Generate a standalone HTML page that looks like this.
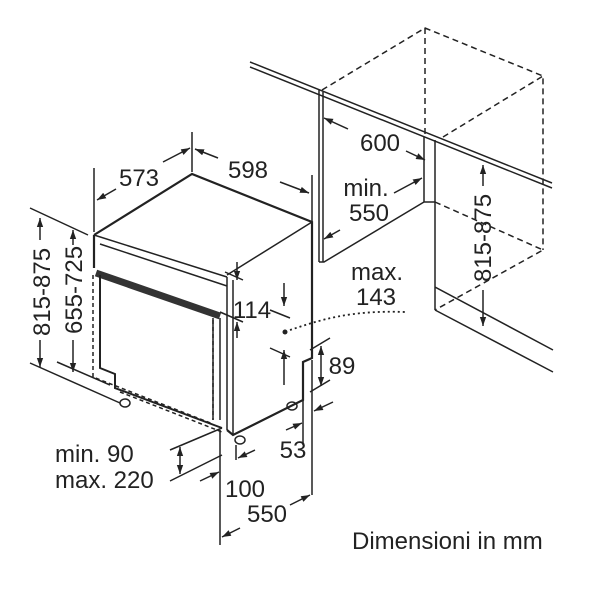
<!DOCTYPE html>
<html><head><style>
body{margin:0;background:#fff}
svg{display:block}
text{font-family:"Liberation Sans",sans-serif;font-size:24px;fill:#222}
</style></head><body>
<svg width="600" height="600" viewBox="0 0 600 600" xmlns="http://www.w3.org/2000/svg">
<defs>
<marker id="a" viewBox="0 0 10 10" refX="10" refY="5" markerWidth="6" markerHeight="6" orient="auto-start-reverse"><path d="M0,1.5L10,5L0,8.5z" fill="#222"/></marker>
</defs>
<g stroke="#222" fill="none" stroke-width="1.5">
<path d="M250,62L552,183M250,67L552,188" />
<g stroke-dasharray="6,4">
<path d="M322,90L425,28L543,76L543,250M425,28L425,137M443,137L543,76M435,202L543,250L435,310"/>
</g>
<path d="M319,90V262M323,92V262M319,262H324L424,202M424,137V202H435M435,140V287L553,350M435,310L553,372M435,287V310"/>
<path stroke-width="2.2" d="M94,235L192,174L312,222L312,358L303,362L303,400L233,435L227,430"/>
<path d="M227,275L312,222M94,235L227,277M100,244L227,286M227,277V430M233,280V435"/>
<path stroke-width="2.2" d="M94,235V268"/>
<path stroke="#333" stroke-width="7" d="M96,273L220,316"/>
<path stroke-width="2" d="M100,275V368L115,374V388L222,428"/>
<path d="M220,318V420M213,318V420"/>
<g stroke-dasharray="4,3"><path d="M93,275V377L213,424M120,392L222,432M213,320V420"/></g>
<ellipse cx="125" cy="403" rx="5" ry="4"/><ellipse cx="240" cy="440" rx="5" ry="4"/><ellipse cx="292" cy="406" rx="5" ry="4"/>
<path d="M94,168V232M192,132V172M312,175V221"/>
<path d="M97,200L116,189" marker-start="url(#a)"/>
<path d="M163,162L190,148" marker-end="url(#a)"/>
<path d="M195,149L218,158" marker-start="url(#a)"/>
<path d="M280,182L309,193" marker-end="url(#a)"/>
<path d="M324,118L348,129" marker-start="url(#a)"/>
<path d="M406,151L425,160" marker-end="url(#a)"/>
<path d="M394,193L422,178" marker-end="url(#a)"/>
<path d="M324,239L340,230" marker-start="url(#a)"/>
<path d="M483,165V186" marker-start="url(#a)"/>
<path d="M483,290V326" marker-end="url(#a)"/>
<path d="M30,208L88,235M30,363L120,403M57,362L110,385"/>
<path d="M40,218V240" marker-start="url(#a)"/>
<path d="M40,340V367" marker-end="url(#a)"/>
<path d="M73,230V245" marker-start="url(#a)"/>
<path d="M73,340V372" marker-end="url(#a)"/>
<path d="M225,272L243,280M220,312L243,322M270,310L290,318M270,348L290,357"/>
<path d="M237,262V280" marker-end="url(#a)"/>
<path d="M237,338V322" marker-end="url(#a)"/>
<path d="M284,283V306" marker-end="url(#a)"/>
<path d="M284,385V350" marker-end="url(#a)"/>
<path d="M310,350L330,338M310,392L330,380"/>
<path d="M321,346V386" marker-start="url(#a)" marker-end="url(#a)"/>
<path d="M303,400V445M312,360V495"/>
<path d="M286,430L302,423" marker-end="url(#a)"/>
<path d="M333,402L314,411" marker-end="url(#a)"/>
<path d="M170,450L222,428M170,481L222,455"/>
<path d="M180,447V474" marker-start="url(#a)" marker-end="url(#a)"/>
<path d="M200,481L219,472" marker-end="url(#a)"/>
<path d="M220,430V545M236,445V460"/>
<path d="M255,450L238,458" marker-end="url(#a)"/>
<path d="M222,537L240,528" marker-start="url(#a)"/>
<path d="M290,505L310,495" marker-end="url(#a)"/>
<path stroke-dasharray="2,3" stroke-width="1.8" d="M290,330C320,320 350,310 405,312"/>
</g>
<circle cx="285" cy="332" r="2.5" fill="#222"/>
<g text-anchor="middle">
<text x="139" y="186">573</text>
<text x="248" y="178">598</text>
<text x="380" y="151">600</text>
<text x="366" y="196">min.</text>
<text x="369" y="221">550</text>
<text x="377" y="280">max.</text>
<text x="376" y="305">143</text>
<text x="252" y="318">114</text>
<text x="342" y="374">89</text>
<text x="293" y="458">53</text>
<text x="245" y="497">100</text>
<text x="267" y="522">550</text>
</g>
<text x="55" y="462">min. 90</text>
<text x="55" y="488">max. 220</text>
<text x="352" y="549">Dimensioni in mm</text>
<g text-anchor="middle">
<text transform="translate(50,292) rotate(-90)">815-875</text>
<text transform="translate(82,290) rotate(-90)">655-725</text>
<text transform="translate(491,238) rotate(-90)">815-875</text>
</g>
</svg>
</body></html>
